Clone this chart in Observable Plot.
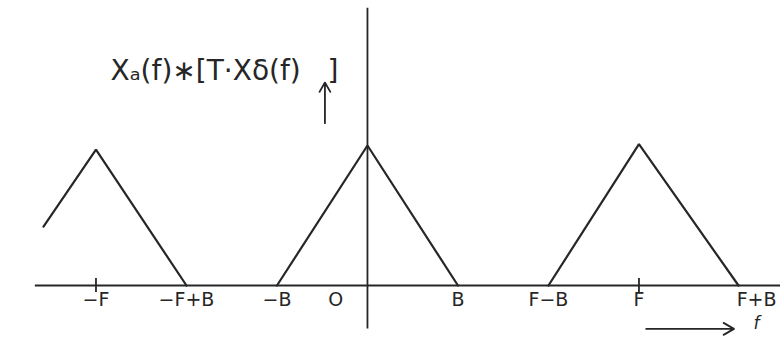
<!DOCTYPE html>
<html>
<head>
<meta charset="utf-8">
<script src="https://cdn.jsdelivr.net/npm/d3@7"></script>
<script src="https://cdn.jsdelivr.net/npm/@observablehq/plot@0.6"></script>
<style>
  html, body { margin: 0; padding: 0; background: #fff; }
  svg { display: block; }
</style>
</head>
<body>
<div id="chart"></div>
<script>
// Sampling frequency F and signal bandwidth B (frequency units)
const F = 3;
const B = 1;

// Spectrum replicas: vertices of each triangular copy around -F, 0, F
const replicaNames = ["left", "centre", "right"];
const replicaF = [
  [-3.58, -F, -F + B],
  [-B, 0, B],
  [F - B, F, F + 1.1]
];
const replicaA = [
  [0.42, 0.97, 0],
  [0, 1.0, 0],
  [0, 1.01, 0]
];

// Frequency-axis labels
const tickValues = [-F, -F + B, -B, -0.35, B, F - B, F, F + B + 0.3];
const tickLabels = ["−F", "−F+B", "−B", "O", "B", "F−B", "F", "F+B"];
// Tick marks drawn on the axis
const markedTicks = [-F, F];

const pts = [];
replicaNames.forEach((name, i) => {
  replicaF[i].forEach((f, j) => pts.push({ name, f, a: replicaA[i][j] }));
});
const ticks = tickValues.map((f, i) => ({ f, label: tickLabels[i] }));

const ink = "#262626";
const font = "'DejaVu Sans', sans-serif";

const plot = Plot.plot({
  width: 780,
  height: 348,
  margin: 0,
  x: { domain: [-4.055, 4.564], axis: null },
  y: { domain: [-0.45, 2.036], axis: null },
  style: { background: "#fff", fontFamily: font },
  marks: [
    // frequency axis
    Plot.ruleY([0], { x1: -3.67, x2: 4.6, stroke: ink, strokeWidth: 1.8 }),
    // amplitude axis
    Plot.ruleX([0], { y1: -0.31, y2: 1.98, stroke: ink, strokeWidth: 1.8 }),
    // tick marks at ±F
    Plot.ruleX(markedTicks, { y1: -0.05, y2: 0.05, stroke: ink, strokeWidth: 1.8 }),
    // spectrum replicas
    Plot.line(pts, { x: "f", y: "a", z: "name", stroke: ink, strokeWidth: 2.2, strokeLinejoin: "miter" }),
    // axis labels
    Plot.text(ticks, { x: "f", y: -0.1, text: "label", fill: ink, fontSize: 19 }),
    // frequency direction arrow and variable name
    Plot.arrow([{ x1: 3.08, x2: 4.05, y: -0.31 }], { x1: "x1", x2: "x2", y1: "y", y2: "y", stroke: ink, strokeWidth: 1.8, headLength: 10 }),
    Plot.text([{ f: 4.3, a: -0.27, t: "f" }], { x: "f", y: "a", text: "t", fill: ink, fontSize: 17, fontStyle: "italic" }),
    // spectrum title and its small arrow
    Plot.text([{ f: -2.84, a: 1.53 }], {
      x: "f", y: "a", text: () => "Xₐ(f)∗[T·Xδ(f)   ]",
      textAnchor: "start", fill: ink, fontSize: 28, letterSpacing: 1
    }),
    Plot.arrow([{ x: -0.47, y1: 1.16, y2: 1.45 }], { x1: "x", x2: "x", y1: "y1", y2: "y2", stroke: ink, strokeWidth: 1.8, headLength: 9 })
  ]
});

document.getElementById("chart").appendChild(plot);
</script>
</body>
</html>
